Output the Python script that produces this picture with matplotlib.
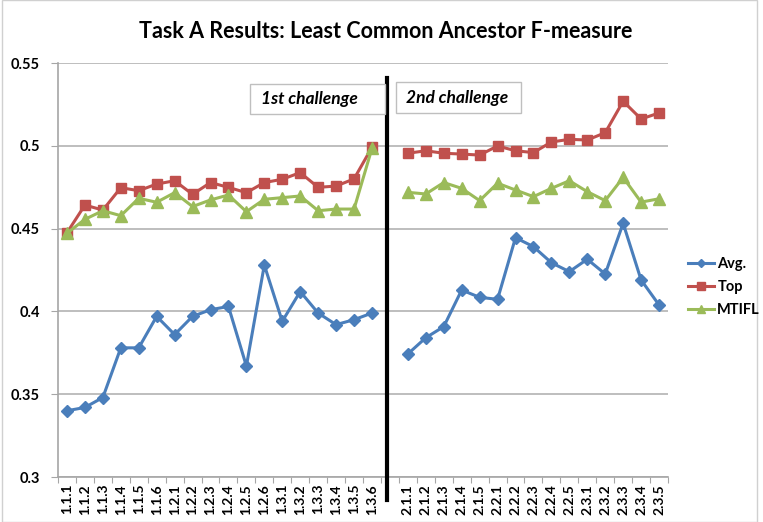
import matplotlib.pyplot as plt
import matplotlib.transforms as mtransforms
from matplotlib.patches import Rectangle

plt.rcParams['font.family'] = ['Lato', 'DejaVu Sans']

# category labels, first and second challenge
labels1 = ['1.1.1', '1.1.2', '1.1.3', '1.1.4', '1.1.5', '1.1.6',
           '1.2.1', '1.2.2', '1.2.3', '1.2.4', '1.2.5', '1.2.6',
           '1.3.1', '1.3.2', '1.3.3', '1.3.4', '1.3.5', '1.3.6']
labels2 = ['2.1.1', '2.1.2', '2.1.3', '2.1.4', '2.1.5',
           '2.2.1', '2.2.2', '2.2.3', '2.2.4', '2.2.5',
           '2.3.1', '2.3.2', '2.3.3', '2.3.4', '2.3.5']

avg1 = [0.340, 0.342, 0.348, 0.378, 0.378, 0.397, 0.386, 0.397, 0.401,
        0.403, 0.367, 0.428, 0.394, 0.412, 0.399, 0.392, 0.395, 0.399]
top1 = [0.4475, 0.4642, 0.4612, 0.4747, 0.4729, 0.4769, 0.4789, 0.4707, 0.4778,
        0.4749, 0.4717, 0.4778, 0.4798, 0.4838, 0.4749, 0.4757, 0.4800, 0.4991]
mtifl1 = [0.4472, 0.4556, 0.4608, 0.4578, 0.4683, 0.4659, 0.4717, 0.4633, 0.4673,
          0.4703, 0.4602, 0.4677, 0.4687, 0.4697, 0.4608, 0.4618, 0.4618, 0.4985]

avg2 = [0.3743, 0.3841, 0.3908, 0.4129, 0.4085, 0.4073, 0.4445, 0.4391,
        0.4294, 0.4240, 0.4315, 0.4226, 0.4532, 0.4190, 0.4039]
top2 = [0.4955, 0.4970, 0.4955, 0.4950, 0.4944, 0.4999, 0.4970, 0.4959,
        0.5023, 0.5039, 0.5035, 0.5079, 0.5269, 0.5162, 0.5198]
mtifl2 = [0.4719, 0.4709, 0.4778, 0.4743, 0.4669, 0.4774, 0.4733, 0.4693,
          0.4743, 0.4789, 0.4723, 0.4669, 0.4809, 0.4660, 0.4680]

c_avg = '#4A7EBB'
c_top = '#C0504D'
c_mtifl = '#9BBB59'

fig = plt.figure(figsize=(7.63, 5.22), dpi=100)
ax = fig.add_axes([58/763, 1-477/522, 610/763, 414/522])

n1 = len(labels1)
x1 = list(range(n1))
x2 = list(range(n1 + 1, n1 + 1 + len(labels2)))

style = dict(lw=2.2, clip_on=False, zorder=3)
l1, = ax.plot(x1, avg1, color=c_avg, marker='D', ms=6, **style)
l2, = ax.plot(x1, top1, color=c_top, marker='s', ms=7, **style)
l3, = ax.plot(x1, mtifl1, color=c_mtifl, marker='^', ms=8, **style)
ax.plot(x2, avg2, color=c_avg, marker='D', ms=6, **style)
ax.plot(x2, top2, color=c_top, marker='s', ms=7, **style)
ax.plot(x2, mtifl2, color=c_mtifl, marker='^', ms=8, **style)

ncat = n1 + 1 + len(labels2)
ax.set_xlim(-0.5, ncat - 0.5)
ax.set_ylim(0.3, 0.55)
ax.set_yticks([0.3, 0.35, 0.4, 0.45, 0.5, 0.55])
ax.set_yticklabels(['0.3', '0.35', '0.4', '0.45', '0.5', '0.55'],
                   fontsize=10.5, fontweight='bold')
ax.yaxis.grid(True, color='#b3b3b3', lw=1.2)
ax.set_axisbelow(True)

# ticks between categories, labels at centres
ax.set_xticks([i - 0.5 for i in range(ncat + 1)])
ax.set_xticklabels([])
ax.set_xticks(x1 + x2, minor=True)
ax.set_xticklabels(labels1 + labels2, minor=True, rotation=90,
                   fontsize=10, fontweight='bold')
ax.tick_params(axis='x', which='major', length=4, color='#a6a6a6')
ax.tick_params(axis='x', which='minor', length=0, pad=5)
ax.tick_params(axis='y', length=5, color='#a6a6a6', pad=8)

for s in ['top', 'right']:
    ax.spines[s].set_visible(False)
for s in ['left', 'bottom']:
    ax.spines[s].set_color('#a6a6a6')
    ax.spines[s].set_linewidth(1.2)

# divider between challenges
trans = mtransforms.blended_transform_factory(ax.transData, ax.transAxes)
ax.plot([17.83, 17.83], [0.964, -0.056], color='black', lw=3,
        transform=trans, clip_on=False, zorder=4)

# challenge label boxes
for (bx0, by0, bx1, by1) in [(0.3148, 0.8768, 0.536, 0.9493),
                             (0.554, 0.8792, 0.759, 0.9541)]:
    ax.add_patch(Rectangle((bx0, by0), bx1 - bx0, by1 - by0,
                           transform=ax.transAxes, fc='white', ec='#bfbfbf',
                           lw=1, clip_on=False, zorder=5))
ax.text(0.413, 0.913, '1st challenge', transform=ax.transAxes, ha='center',
        va='center', fontsize=12.5, fontweight='bold', style='italic', zorder=6)
ax.text(0.654, 0.9155, '2nd challenge', transform=ax.transAxes, ha='center',
        va='center', fontsize=12.5, fontweight='bold', style='italic', zorder=6)

fig.text(0.506, 1-32/522, 'Task A Results: Least Common Ancestor F-measure',
         ha='center', va='center', fontsize=15.5, fontweight='bold')

fig.legend([l1, l2, l3], ['Avg.', 'Top', 'MTIFL'], loc='center left',
           bbox_to_anchor=(675/763, 1-287/522), frameon=False,
           prop={'weight': 'bold', 'size': 10.5}, handlelength=1.8,
           handletextpad=0.2, labelspacing=0.6, markerscale=0.75)

fig.patches.append(Rectangle((2/763, 0), 755/763, 1, transform=fig.transFigure,
                             fill=False, ec='#d0d0d0', lw=1))

fig.savefig('out.png', dpi=100)
